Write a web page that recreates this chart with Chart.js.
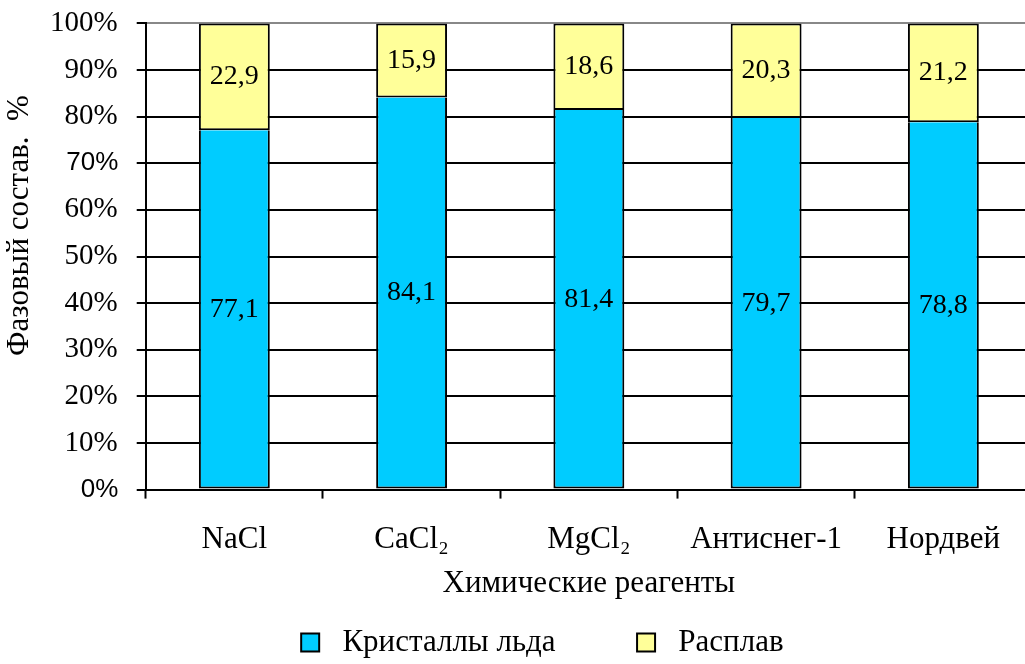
<!DOCTYPE html>
<html>
<head>
<meta charset="utf-8">
<script src="https://cdn.jsdelivr.net/npm/chart.js@4"></script>
<style>
  html, body { margin: 0; padding: 0; background: #fff; overflow: hidden; }
  #wrap { width: 1034px; height: 664px; }
</style>
</head>
<body>
<div id="wrap"><canvas id="phaseChart"></canvas></div>
<script>
// data
const reagents = ['NaCl', 'CaCl₂', 'MgCl₂', 'Антиснег-1', 'Нордвей'];
const iceCrystals = [77.1, 84.1, 81.4, 79.7, 78.8];
const melt = [22.9, 15.9, 18.6, 20.3, 21.2];
const seriesNames = ['Кристаллы льда', 'Расплав'];

const serif = '"Liberation Serif", "Times New Roman", serif';
const sans = '"Liberation Sans", Arial, sans-serif';

// values written in the middle of each segment
const segmentLabels = {
    id: 'segmentLabels',
    afterDatasetsDraw(chart) {
        const ctx = chart.ctx;
        ctx.save();
        ctx.font = '28px ' + serif;
        ctx.fillStyle = '#000';
        ctx.textAlign = 'center';
        ctx.textBaseline = 'middle';
        chart.data.datasets.forEach((ds, i) => {
            chart.getDatasetMeta(i).data.forEach((bar, j) => {
                const txt = ds.data[j].toFixed(1).replace('.', ',');
                ctx.fillText(txt, bar.x, (bar.y + bar.base) / 2);
            });
        });
        ctx.restore();
    }
};

const isSansTick = (c) => c.tick && (c.tick.value === 70 || c.tick.value === 0);

const config = {
    type: 'bar',
    data: {
        labels: reagents,
        datasets: [{
            label: ' ' + seriesNames[0] + '          ',
            data: iceCrystals,
            backgroundColor: '#00CCFF',
            borderColor: '#000',
            borderWidth: 2,
            borderSkipped: 'top'
        }, {
            label: ' ' + seriesNames[1] + '            ',
            data: melt,
            backgroundColor: '#FFFF99',
            borderColor: '#000',
            borderWidth: 2,
            borderSkipped: false
        }]
    },
    options: {
        responsive: true,
        maintainAspectRatio: false,
        animation: false,
        datasets: {
            bar: { categoryPercentage: 1.0, barPercentage: 0.4 }
        },
        layout: { padding: { top: 0, left: 4, right: 2, bottom: -4 } },
        plugins: {
            legend: {
                position: 'bottom',
                fullSize: false,
                labels: {
                    font: { family: serif, size: 31 },
                    color: '#000',
                    boxWidth: 18,
                    boxHeight: 18,
                    padding: 4
                }
            },
            tooltip: { enabled: false }
        },
        scales: {
            x: {
                stacked: true,
                grid: {
                    offset: true,
                    drawOnChartArea: false,
                    tickLength: 9,
                    tickColor: '#000',
                    tickWidth: 2
                },
                border: { color: '#000', width: 2 },
                ticks: {
                    font: { family: serif, size: 31 },
                    color: '#000',
                    padding: 23
                },
                title: {
                    display: true,
                    text: 'Химические реагенты',
                    font: { family: serif, size: 31 },
                    color: '#000',
                    padding: { top: -17, bottom: 21 }
                }
            },
            y: {
                stacked: true,
                min: 0,
                max: 100,
                grid: {
                    color: (c) => (c.tick && c.tick.value === 100 ? '#888' : '#000'),
                    lineWidth: 2,
                    tickLength: 9,
                    tickColor: '#000',
                    tickWidth: 2
                },
                border: { color: '#000', width: 2 },
                ticks: {
                    stepSize: 10,
                    padding: 6,
                    color: '#000',
                    font: (c) => ({
                        family: isSansTick(c) ? sans : serif,
                        size: isSansTick(c) ? 26 : 29
                    }),
                    callback: (v) => v + '% \u2009'
                },
                title: {
                    display: true,
                    text: '        Фазовый состав.  %',
                    font: { family: serif, size: 31, lineHeight: 1.0 },
                    color: '#000',
                    padding: { top: 0, bottom: 9 }
                }
            }
        }
    },
    plugins: [segmentLabels]
};

const phaseChart = new Chart(document.getElementById('phaseChart'), config);
</script>
</body>
</html>
